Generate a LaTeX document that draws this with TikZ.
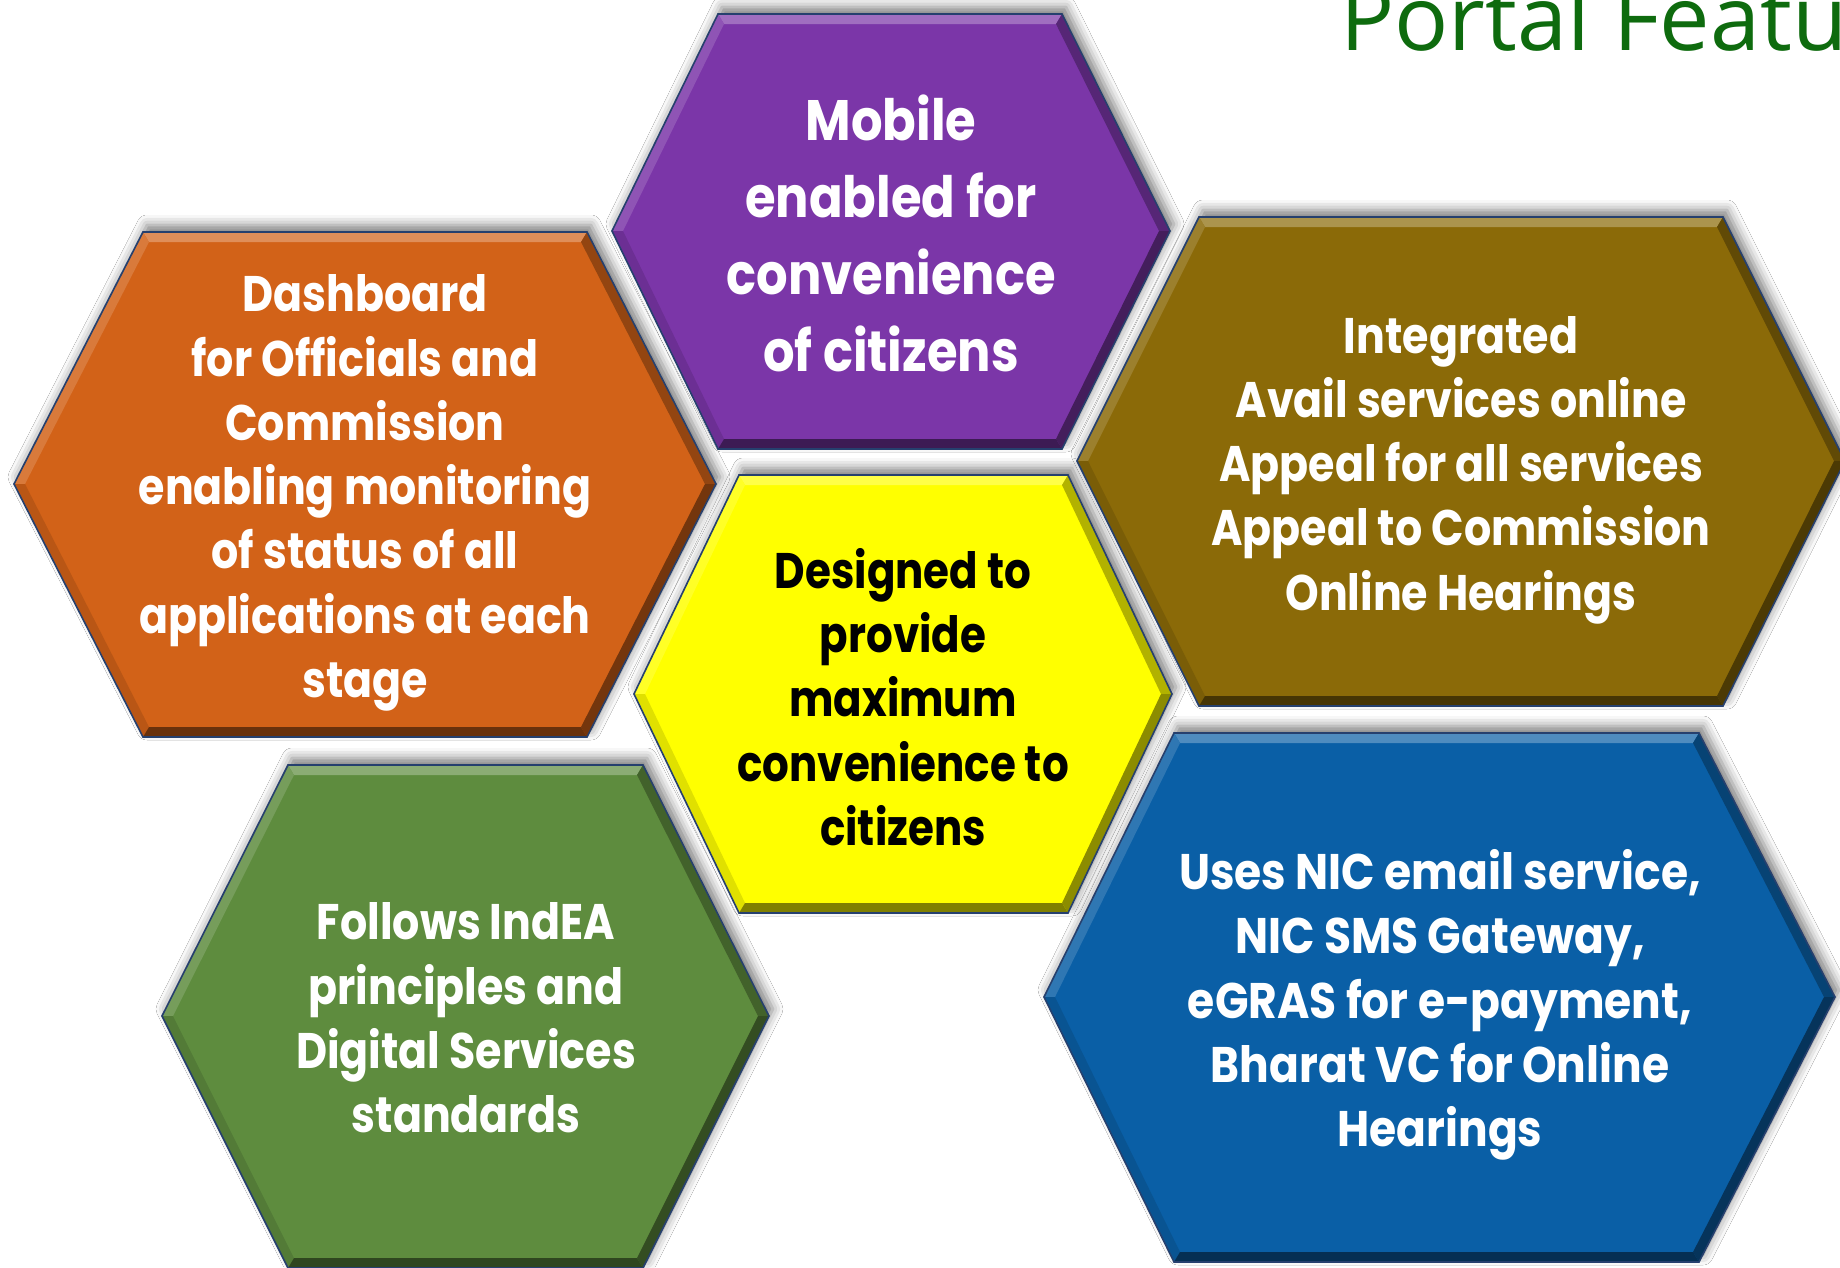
\documentclass[tikz,border=0pt]{standalone}
\usepackage{fontspec}
\usetikzlibrary{calc,shadows.blur}
\newfontfamily\titlefont{Open Sans}
\newfontfamily\hexnarrow[FakeStretch=0.855]{Poppins}
\newfontfamily\hexblue[FakeStretch=0.88]{Poppins}
\newfontfamily\hexwide[FakeStretch=0.87]{Poppins}
\newfontfamily\hexyellow[FakeStretch=0.84]{Poppins}
\definecolor{cPurple}{RGB}{123,54,168}
\definecolor{cOrange}{RGB}{210,98,24}
\definecolor{cOlive}{RGB}{139,106,8}
\definecolor{cYellow}{RGB}{255,255,0}
\definecolor{cGreen}{RGB}{94,140,62}
\definecolor{cBlue}{RGB}{10,95,166}
\definecolor{cTitle}{RGB}{14,107,14}
\definecolor{cEdge}{RGB}{38,64,110}
% #1 name, #2 xl, #3 xtl, #4 xtr, #5 xr, #6 yt, #7 ym, #8 yb
\newcommand{\hexpoints}[8]{%
  \coordinate (#1-L) at (#2,#7);
  \coordinate (#1-TL) at (#3,#6);
  \coordinate (#1-TR) at (#4,#6);
  \coordinate (#1-R) at (#5,#7);
  \coordinate (#1-BR) at (#4,#8);
  \coordinate (#1-BL) at (#3,#8);
  \coordinate (#1-iL) at ($(#1-L)+(11,0)$);
  \coordinate (#1-iTL) at ($(#1-TL)+(6,10)$);
  \coordinate (#1-iTR) at ($(#1-TR)+(-6,10)$);
  \coordinate (#1-iR) at ($(#1-R)+(-11,0)$);
  \coordinate (#1-iBR) at ($(#1-BR)+(-6,-10)$);
  \coordinate (#1-iBL) at ($(#1-BL)+(6,-10)$);
  \path[hexshadow] (#1-L) -- (#1-TL) -- (#1-TR) -- (#1-R) -- (#1-BR) -- (#1-BL) -- cycle;
}
% #1 name, #2 colour
\newcommand{\hexbody}[2]{%
  \fill[#2] (#1-L) -- (#1-TL) -- (#1-TR) -- (#1-R) -- (#1-BR) -- (#1-BL) -- cycle;
  \fill[#2!72!white] (#1-TL) -- (#1-TR) -- (#1-iTR) -- (#1-iTL) -- cycle;
  \fill[#2!85!white] (#1-L) -- (#1-TL) -- (#1-iTL) -- (#1-iL) -- cycle;
  \fill[#2!88!black] (#1-BL) -- (#1-L) -- (#1-iL) -- (#1-iBL) -- cycle;
  \fill[#2!70!black] (#1-TR) -- (#1-R) -- (#1-iR) -- (#1-iTR) -- cycle;
  \fill[#2!55!black] (#1-R) -- (#1-BR) -- (#1-iBR) -- (#1-iR) -- cycle;
  \fill[#2!50!black] (#1-BR) -- (#1-BL) -- (#1-iBL) -- (#1-iBR) -- cycle;
  \draw[hexedge] (#1-L) -- (#1-TL) -- (#1-TR) -- (#1-R) -- (#1-BR) -- (#1-BL) -- cycle;
}
\tikzset{
  hexshadow/.style={blur shadow={shadow xshift=4pt, shadow yshift=7pt, shadow blur radius=10pt, shadow opacity=50}},
  hexedge/.style={draw=cEdge, line width=1.6pt, line join=miter},
  hexlabel/.style={align=center, inner sep=0pt, anchor=center},
  narrowtext/.style={font=\hexnarrow\bfseries\fontsize{50}{64.3}\selectfont},
  bluetext/.style={font=\hexblue\bfseries\fontsize{50}{64.3}\selectfont},
  yellowtext/.style={font=\hexyellow\bfseries\fontsize{50}{64.3}\selectfont},
  bigtext/.style={font=\hexwide\bfseries\fontsize{57}{77}\selectfont},
}
\begin{document}
\begin{tikzpicture}[x=1pt,y=-1pt]
\useasboundingbox (0,0) rectangle (1840,1267);
\fill[white] (0,0) rectangle (1840,1267);
\node[anchor=base west, inner sep=0pt, text=cTitle, font=\titlefont\fontsize{90}{100}\selectfont] (title) at (1340,50) {Portal Featu};
\hexpoints{purple}{612}{718}{1062}{1170}{14}{231}{449}
\hexpoints{orange}{14}{143}{587}{716}{232}{484}{737}
\hexpoints{olive}{1077}{1199}{1723}{1845}{217}{461}{706}
\hexpoints{yellow}{634}{739}{1068}{1172}{475}{694}{913}
\hexpoints{green}{162}{288}{643}{769}{765}{1016}{1268}
\hexpoints{blue}{1044}{1174}{1699}{1835}{733}{997}{1262}
\hexbody{purple}{cPurple}
\hexbody{orange}{cOrange}
\hexbody{olive}{cOlive}
\hexbody{yellow}{cYellow}
\hexbody{green}{cGreen}
\hexbody{blue}{cBlue}
\node[hexlabel, bigtext, text=white] (purple-text) at (891,233) {Mobile\\enabled for\\convenience\\of citizens};
\node[hexlabel, narrowtext, text=white] (orange-text) at (365,493) {Dashboard\\for Officials and\\Commission\\enabling monitoring\\of status of all\\applications at each\\stage};
\node[hexlabel, narrowtext, text=white] (olive-text) at (1461,470) {Integrated\\Avail services online\\Appeal for all services\\Appeal to Commission\\Online Hearings};
\node[hexlabel, yellowtext, text=black] (yellow-text) at (903,697) {Designed to\\provide\\maximum\\convenience to\\citizens};
\node[hexlabel, narrowtext, text=white] (green-text) at (466,1018) {Follows IndEA\\principles and\\Digital Services\\standards};
\node[hexlabel, bluetext, text=white] (blue-text) at (1440,1005) {Uses NIC email service,\\NIC SMS Gateway,\\eGRAS for e-payment,\\Bharat VC for Online\\Hearings};
\end{tikzpicture}
\end{document}
